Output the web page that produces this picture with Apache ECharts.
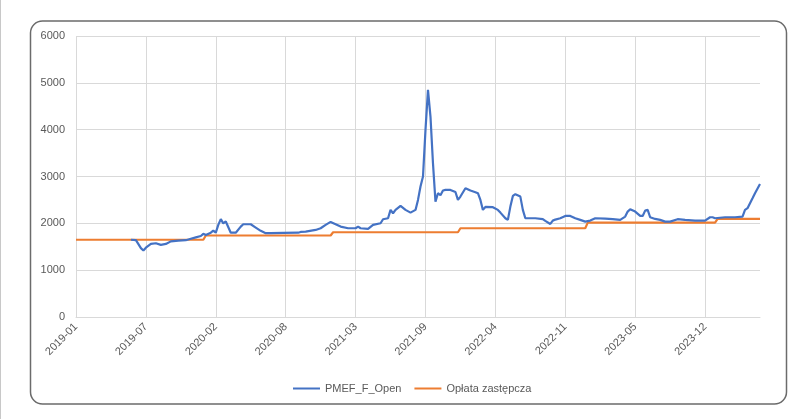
<!DOCTYPE html>
<html>
<head>
<meta charset="utf-8">
<script src="https://cdn.jsdelivr.net/npm/echarts@6/dist/echarts.min.js"></script>
<style>
  html, body { margin: 0; padding: 0; background: #fff; }
  #chart { width: 806px; height: 419px; }
</style>
</head>
<body>
<div id="chart"></div>
<script>
// week index on the x axis, one label every 28 weeks
const weekCount = 275
const labelStep = 28
const tickLabels = ['2019-01', '2019-07', '2020-02', '2020-08', '2021-03', '2021-09', '2022-04', '2022-11', '2023-05', '2023-12']
const yTicks = [0, 1000, 2000, 3000, 4000, 5000, 6000]

// [week, value]
const pmefOpen = [
  [22, 1650], [24, 1640], [26, 1470], [27, 1420], [28, 1480], [30, 1560], [32, 1575], [34, 1540],
  [36, 1560], [38, 1615], [41, 1630], [44, 1640], [46, 1670], [48, 1700], [50, 1730], [51, 1775],
  [52, 1750], [54, 1800], [55, 1845], [56, 1800], [57, 1966], [58, 2090], [59, 2000], [60, 2040],
  [62, 1800], [64, 1800], [66, 1930], [67, 1980], [70, 1980], [72, 1910], [74, 1840], [76, 1790],
  [78, 1790], [83, 1795], [89, 1800], [90, 1816], [92, 1823], [96, 1859], [98, 1895], [100, 1966],
  [102, 2030], [104, 1981], [106, 1930], [109, 1895], [112, 1895], [113, 1930], [114, 1895], [117, 1880],
  [119, 1966], [122, 2002], [123, 2088], [125, 2109], [126, 2287], [127, 2216], [128, 2287], [130, 2372],
  [132, 2287], [134, 2229], [136, 2287], [137, 2500], [138, 2785], [139, 2998], [140, 3996], [141, 4850],
  [142, 4280], [143, 3284], [144, 2464], [145, 2643], [146, 2600], [147, 2700], [148, 2714], [150, 2714],
  [152, 2670], [153, 2500], [154, 2572], [156, 2750], [158, 2700], [160, 2665], [161, 2643], [162, 2500],
  [163, 2287], [164, 2350], [167, 2344], [169, 2287], [170, 2229], [172, 2109], [173, 2073], [174, 2357],
  [175, 2586], [176, 2622], [178, 2571], [179, 2287], [180, 2109], [184, 2109], [187, 2088], [188, 2052],
  [190, 1987], [191, 2058], [192, 2080], [194, 2109], [196, 2158], [198, 2158], [200, 2109], [202, 2073],
  [204, 2037], [206, 2058], [208, 2109], [212, 2100], [215, 2088], [218, 2075], [220, 2144], [221, 2251],
  [222, 2301], [224, 2251], [226, 2158], [227, 2158], [228, 2272], [229, 2287], [230, 2130], [232, 2094],
  [234, 2073], [236, 2037], [238, 2037], [241, 2088], [244, 2073], [248, 2058], [252, 2058], [254, 2130],
  [255, 2130], [256, 2109], [260, 2130], [264, 2130], [267, 2144], [268, 2287], [269, 2323], [270, 2430],
  [271, 2536], [272, 2643], [274, 2840]
]

// substitute fee, yearly steps
const oplataZastepcza = [
  [0, 1650], [51, 1650], [52, 1740], [102, 1740], [103, 1810], [153, 1810], [154, 1895],
  [204, 1895], [205, 2015], [256, 2015], [257, 2095], [274, 2095]
]

const weeks = Array.from({ length: weekCount }, (_, i) => String(i))
const textColor = '#595959'
const gridColor = '#d9d9d9'
const font = 'Liberation Sans, Arial, sans-serif'

let myChart = echarts.init(document.getElementById('chart'), null, { renderer: 'canvas' })

let option = {
  animation: false,
  backgroundColor: '#fff',
  textStyle: { fontFamily: font },
  graphic: [
    {
      type: 'rect',
      silent: true,
      z: -1,
      shape: { x: 30.5, y: 21, width: 756, height: 383, r: 12 },
      style: { fill: '#fff', stroke: '#6b6b6b', lineWidth: 1.5 }
    },
    {
      type: 'line',
      silent: true,
      shape: { x1: 0.5, y1: 0, x2: 0.5, y2: 419 },
      style: { stroke: '#c8c8c8', lineWidth: 1 }
    }
  ],
  grid: { left: 76, right: 46, top: 36, bottom: 102, containLabel: false },
  legend: {
    left: 288,
    top: 378,
    icon: 'rect',
    itemWidth: 27,
    itemHeight: 2,
    itemGap: 13,
    textStyle: { color: textColor, fontSize: 11, fontFamily: font },
    data: ['PMEF_F_Open', 'Opłata zastępcza']
  },
  xAxis: {
    type: 'category',
    data: weeks,
    boundaryGap: false,
    axisLine: { lineStyle: { color: gridColor, width: 1 } },
    axisTick: { show: false },
    axisLabel: {
      interval: i => i % labelStep === 0,
      rotate: 45,
      margin: 8,
      color: textColor,
      fontSize: 11,
      formatter: (v, i) => tickLabels[i / labelStep] || ''
    },
    splitLine: {
      show: true,
      interval: i => i % labelStep === 0,
      lineStyle: { color: gridColor, width: 1 }
    }
  },
  yAxis: {
    type: 'value',
    min: yTicks[0],
    max: yTicks[yTicks.length - 1],
    interval: 1000,
    axisLine: { show: false },
    axisTick: { show: false },
    axisLabel: { color: textColor, fontSize: 11, margin: 11, formatter: v => String(v) },
    splitLine: { lineStyle: { color: gridColor, width: 1 } }
  },
  series: [
    {
      name: 'PMEF_F_Open',
      type: 'line',
      data: pmefOpen,
      symbol: 'none',
      lineStyle: { color: '#4472C4', width: 2.2 },
      itemStyle: { color: '#4472C4' },
      z: 3
    },
    {
      name: 'Opłata zastępcza',
      type: 'line',
      data: oplataZastepcza,
      symbol: 'none',
      lineStyle: { color: '#ED7D31', width: 2.2 },
      itemStyle: { color: '#ED7D31' },
      z: 2
    }
  ]
}

myChart.setOption(option)
</script>
</body>
</html>
